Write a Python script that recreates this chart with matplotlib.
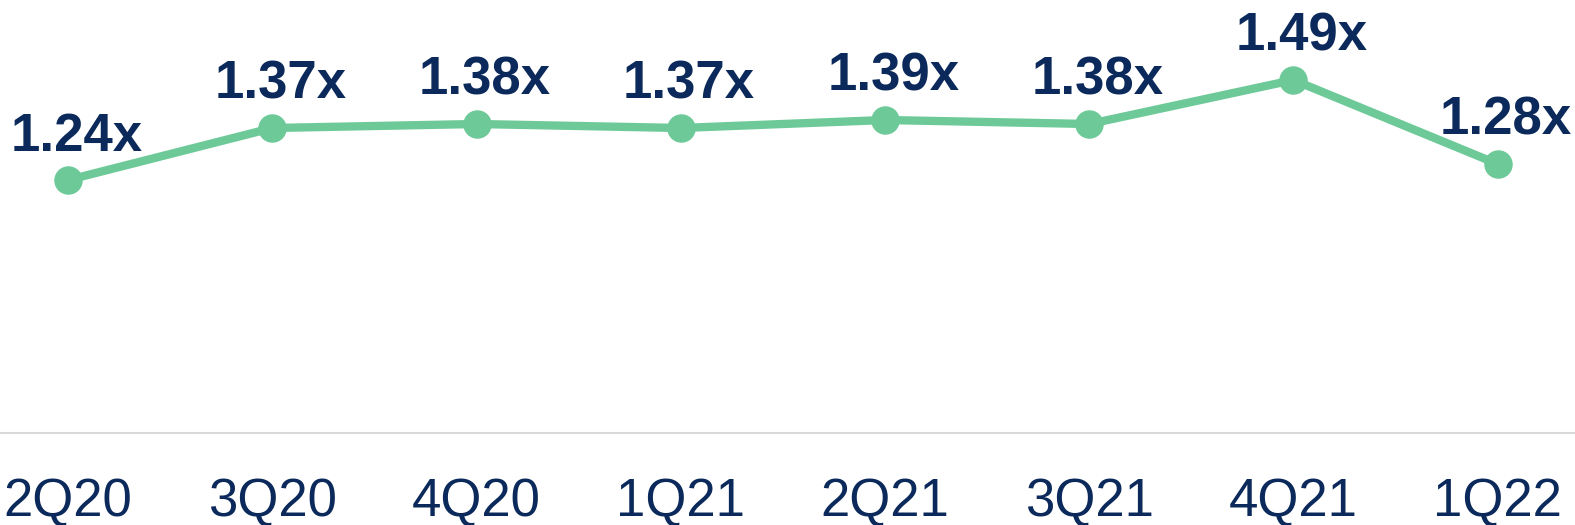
import matplotlib
matplotlib.use("Agg")
import matplotlib.pyplot as plt

categories = ["2Q20", "3Q20", "4Q20", "1Q21", "2Q21", "3Q21", "4Q21", "1Q22"]
values = [1.24, 1.37, 1.38, 1.37, 1.39, 1.38, 1.49, 1.28]
labels = ["1.24x", "1.37x", "1.38x", "1.37x", "1.39x", "1.38x", "1.49x", "1.28x"]

plt.rcParams['font.family'] = ['Liberation Sans', 'DejaVu Sans']
W, H = 1575, 525
fig = plt.figure(figsize=(W/100, H/100), dpi=100)
ax = fig.add_axes([0, (H-433)/H, 1, 433/H])
green = "#6DCA98"
navy = "#0B2A5B"
x = list(range(len(categories)))
ax.plot(x, values, color=green, lw=6, marker="o", ms=19.5, solid_capstyle="round", zorder=3)
for xi, v, t in zip(x, values, labels):
    ax.annotate(t, (xi, v), xytext=(6, 21), textcoords="offset points",
                ha="center", va="baseline", fontsize=38, fontweight="bold", color=navy)
ax.set_xlim(-0.334, 7.379)
ax.set_ylim(0.6075, 1.69)
for s in ["top", "right", "left"]:
    ax.spines[s].set_visible(False)
ax.spines["bottom"].set_color("#D9D9D9")
ax.spines["bottom"].set_linewidth(1.5)
ax.set_yticks([])
ax.set_xticks(x)
ax.set_xticklabels(categories, fontsize=38, color=navy)
ax.tick_params(axis="x", length=0, pad=32)
fig.savefig("out.png", dpi=100)
